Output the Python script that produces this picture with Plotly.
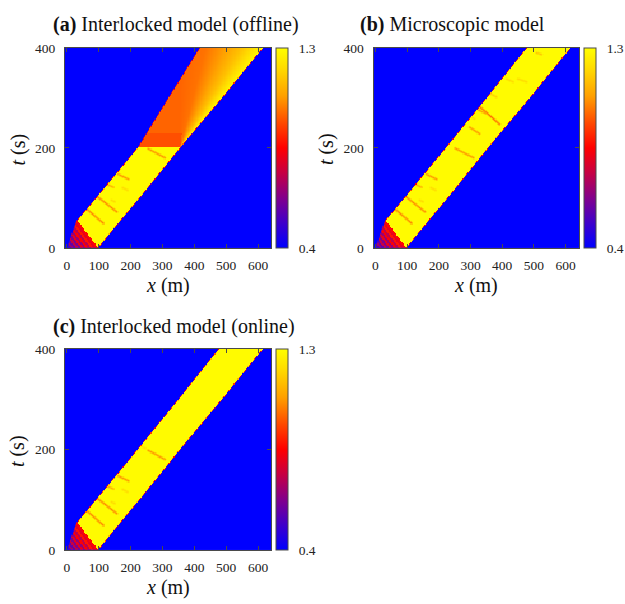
import numpy as np
import plotly.graph_objects as go

W, H = 625, 604

# ---------------- data ----------------
x_cells = np.arange(-4.0, 646.0, 4.0)     # m
t_cells = np.arange(0.0, 401.0, 2.5)      # s

# platoon band edges (m) at sample times (s)
edge_t = [0, 53, 100, 200, 300, 400]
left_edge_x = [0, 30, 92, 222, 350, 476]
right_edge_x = [98, 166, 228, 355, 486, 614]

band_value = 1.29
bg_value = 0.4

# start-up triangle: apex and right base point, stripes from hypotenuse outward
tri_apex_x, tri_apex_t, tri_base_x = 32, 55, 98
tri_values = [0.86, 0.80, 0.88, 0.72, 0.84, 0.66, 0.80, 0.62, 0.74, 0.58, 0.68, 0.55, 0.5]

# stop-and-go streaks: (x0, t0, x1, t1, value)
streaks_lower = [
    (61, 78, 114, 49, 1.05),
    (98, 101, 156, 72, 1.05),
    (125, 127, 146, 121, 1.12),
    (161, 147, 193, 137, 1.07),
    (175, 120, 190, 115, 1.21),
    (140, 95, 150, 92, 1.21),
    (255, 198, 307, 180, 1.07),
]
streaks_micro_upper = [
    (297, 241, 328, 228, 1.08),
    (328, 283, 391, 247, 1.01),
    (325, 276, 352, 268, 1.08),
    (360, 309, 381, 302, 1.19),
    (413, 338, 434, 332, 1.21),
    (449, 338, 476, 332, 1.21),
    (508, 390, 523, 387, 1.17),
    (300, 262, 312, 258, 1.21),
]
streaks_online_upper = [
    (232, 206, 246, 202, 1.22),
]

# offline interlocked model after t = 200 s
offline_t = [200, 300, 400]
offline_left_x = [222, 318, 416]
fan_origin_x, fan_origin_t = 355, 200
fan_speed = [0.0, 0.4, 0.7, 0.95, 1.15, 1.31]
fan_value = [1.00, 1.02, 1.08, 1.15, 1.22, 1.28]
offline_block_t = 230
offline_block_value = 0.97

# ---------------- build the fields ----------------
SX, ST = 0.32, 0.5125   # px per m, px per s (stroke widths only)
DX = x_cells[1] - x_cells[0]
X, T = np.meshgrid(x_cells, t_cells)


def seg_dist(x0, t0, x1, t1):
    px, pt = X * SX, T * ST
    ax, at = x0 * SX, t0 * ST
    bx, bt = x1 * SX, t1 * ST
    dx, dt = bx - ax, bt - at
    u = np.clip(((px - ax) * dx + (pt - at) * dt) / (dx * dx + dt * dt), 0, 1)
    return np.hypot(px - ax - u * dx, pt - at - u * dt)


def build(streaks, offline=False):
    L = np.interp(T, edge_t, left_edge_x)
    R = np.interp(T, edge_t, right_edge_x)
    v = np.full(X.shape, band_value)
    ax, at = tri_base_x * SX, 0.0
    bx, bt = tri_apex_x * SX, tri_apex_t * ST
    cross = (bx - ax) * (T * ST - at) - (bt - at) * (X * SX - ax)
    d = cross / np.hypot(bx - ax, bt - at)
    idx = np.clip((d / 2.0).astype(int), 0, len(tri_values) - 1)
    v = np.where(d > 0, np.array(tri_values)[idx], v)
    for (x0, t0, x1, t1, sv) in streaks:
        dd = seg_dist(x0, t0, x1, t1)
        v = np.minimum(v, sv + (band_value - sv) * np.clip(dd / 2.0, 0, 1))
    if offline:
        up = T > 200
        L = np.where(up, np.interp(T, offline_t, offline_left_x), L)
        s = (X - fan_origin_x) / np.maximum(T - fan_origin_t, 1e-6)
        fan = np.interp(s, fan_speed, fan_value)
        fan = np.where((T < offline_block_t) & (s < 0.2), offline_block_value, fan)
        v = np.where(up, fan, v)
    cov = np.clip((X - L) / DX + 0.5, 0, 1) * np.clip((R - X) / DX + 0.5, 0, 1)
    return bg_value + cov * (v - bg_value)


z_a = build(streaks_lower, offline=True)
z_b = build(streaks_lower[:-1] + [(251, 199, 309, 180, 1.07)] + streaks_micro_upper)
z_c = build(streaks_lower + streaks_online_upper)

# ---------------- figure ----------------
colorscale = [
    [0.00, "rgb(0,0,255)"],
    [0.12, "rgb(60,0,205)"],
    [0.25, "rgb(130,0,140)"],
    [0.38, "rgb(200,0,65)"],
    [0.50, "rgb(255,0,0)"],
    [0.62, "rgb(255,70,0)"],
    [0.76, "rgb(255,160,0)"],
    [0.90, "rgb(255,220,0)"],
    [1.00, "rgb(255,255,0)"],
]

FONT = "Liberation Serif"
LINE = "#4a4a4a"


def px_x(p):
    return p / W


def px_y(p):
    return 1 - p / H


panels = [
    (z_a, "", (64.3, 271.7), (42, 247), 276, "<b>(a)</b> Interlocked model (offline)", (175.5, 18)),
    (z_b, "2", (374.3, 580.7), (42, 247), 585.7, "<b>(b)</b> Microscopic model", (454, 18)),
    (z_c, "3", (64.3, 271.7), (350.7, 556.7), 276, "<b>(c)</b> Interlocked model (online)", (173.5, 328)),
]

fig = go.Figure()
annotations = []
layout = {}
for z, ax, (x0, x1), (y0, y1), cbx, title, (tx, ty) in panels:
    fig.add_trace(go.Heatmap(
        x=x_cells, y=t_cells, z=z, zmin=0.4, zmax=1.3, colorscale=colorscale,
        xaxis="x" + ax, yaxis="y" + ax, hoverinfo="skip",
        colorbar=dict(
            x=px_x(cbx), xanchor="left", xpad=0, ypad=0,
            y=(px_y(y0) + px_y(y1)) / 2, yanchor="middle",
            len=(y1 - y0) / H, lenmode="fraction",
            thickness=11.5, thicknessmode="pixels",
            outlinewidth=1, outlinecolor=LINE,
            tickvals=[0.4, 1.3], ticktext=["0.4", "1.3"],
            ticks="outside", ticklen=8, tickcolor="rgba(0,0,0,0)",
            tickfont=dict(family=FONT, size=13.5, color="#222"),
        ),
    ))
    common = dict(showline=True, linecolor=LINE, linewidth=1, mirror="ticks",
                  ticks="inside", ticklen=4, tickcolor=LINE, tickwidth=1,
                  showgrid=False, zeroline=False,
                  tickfont=dict(family=FONT, size=13.5, color="#222"))
    layout["xaxis" + ax] = dict(common, domain=[px_x(x0), px_x(x1)], range=[-6, 642],
                                tickvals=[0, 100, 200, 300, 400, 500, 600],
                                anchor="y" + ax, ticklabelstandoff=5)
    layout["yaxis" + ax] = dict(common, domain=[px_y(y1), px_y(y0)], range=[0, 400],
                                tickvals=[0, 200, 400], anchor="x" + ax,
                                ticklabelstandoff=6)
    annotations.append(dict(text=title, x=px_x(tx), y=px_y(ty), xref="paper", yref="paper",
                            xanchor="center", yanchor="middle", showarrow=False,
                            font=dict(family=FONT, size=20, color="#111")))
    annotations.append(dict(text="<i>x</i> (m)", x=px_x((x0 + x1) / 2), y=px_y(y1 + 39),
                            xref="paper", yref="paper", xanchor="center", yanchor="middle",
                            showarrow=False, font=dict(family=FONT, size=20, color="#111")))
    annotations.append(dict(text="<i>t</i> (s)", x=px_x(x0 - 47), y=px_y((y0 + y1) / 2 + 1.5),
                            xref="paper", yref="paper", xanchor="center", yanchor="middle",
                            textangle=-90, showarrow=False,
                            font=dict(family=FONT, size=20, color="#111")))

fig.update_layout(
    width=W, height=H, margin=dict(l=0, r=0, t=0, b=0),
    paper_bgcolor="white", plot_bgcolor="rgb(0,0,255)",
    showlegend=False, annotations=annotations, **layout,
)

fig.write_html("out.html")
